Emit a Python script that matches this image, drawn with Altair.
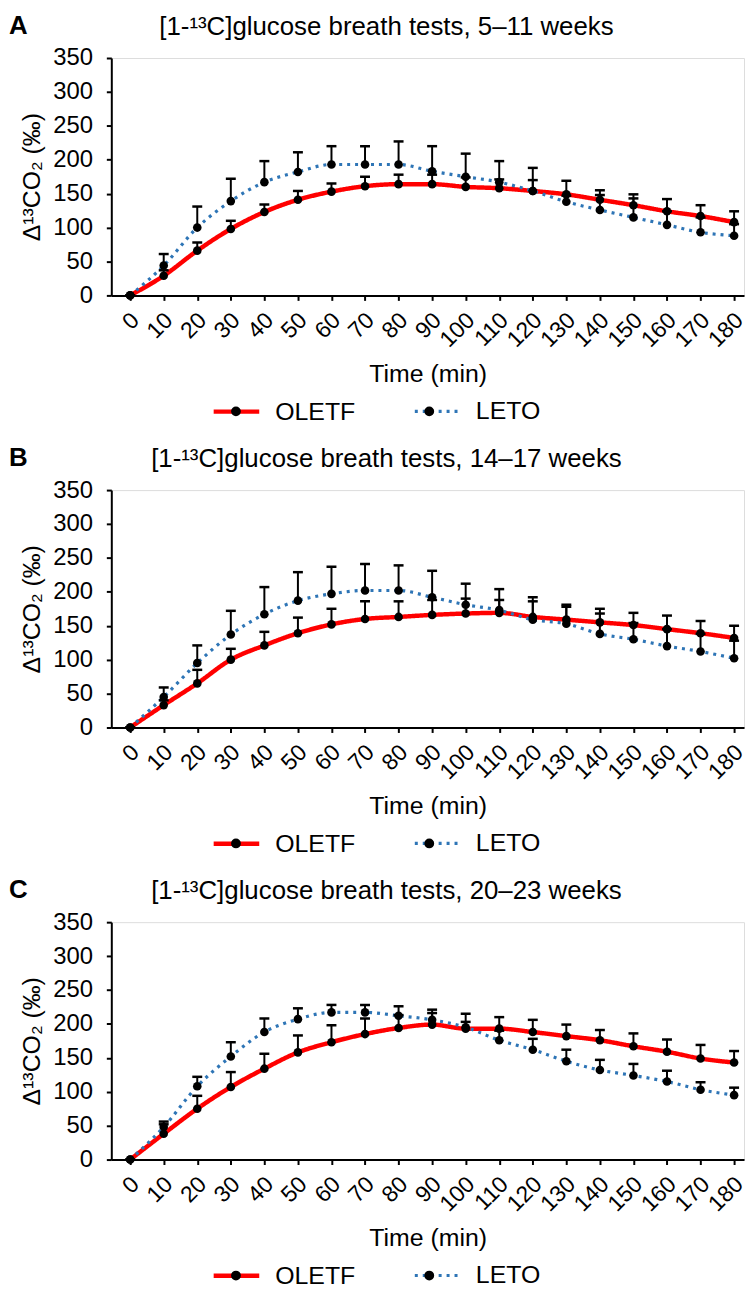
import altair as alt
import pandas as pd

FONT = "Liberation Sans"

times = list(range(0, 181, 10))
series_names = ["OLETF", "LETO"]
series_colors = ["#ff0000", "#2e75b6"]
y_ticks = list(range(0, 351, 50))

letters = ["A", "B", "C"]
titles = [
    "[1-\u00b9\u00b3C]glucose breath tests, 5\u201311 weeks",
    "[1-\u00b9\u00b3C]glucose breath tests, 14\u201317 weeks",
    "[1-\u00b9\u00b3C]glucose breath tests, 20\u201323 weeks",
]

# Panel A (5-11 weeks)
a_oletf = [0, 29, 66, 98, 123, 141, 153, 161, 164, 164, 160, 158, 154, 149, 141, 133, 124, 117, 108]
a_oletf_sd = [0, 8, 12, 12, 11, 13, 12, 14, 14, 14, 14, 13, 16, 20, 14, 16, 18, 16, 16]
a_leto = [0, 44, 100, 139, 167, 182, 193, 193, 193, 183, 175, 167, 154, 138, 126, 115, 104, 93, 88]
a_leto_sd = [0, 17, 31, 33, 31, 29, 27, 27, 34, 37, 34, 31, 34, 9, 22, 28, 20, 22, 17]

# Panel B (14-17 weeks)
b_oletf = [0, 33, 65, 100, 121, 139, 152, 160, 163, 166, 168, 169, 163, 159, 155, 151, 145, 139, 132]
b_oletf_sd = [0, 7, 20, 16, 20, 23, 23, 26, 23, 22, 22, 19, 23, 22, 20, 18, 20, 18, 18]
b_leto = [0, 45, 95, 137, 167, 187, 197, 202, 202, 192, 181, 173, 159, 153, 138, 130, 120, 112, 102]
b_leto_sd = [0, 14, 26, 35, 40, 42, 40, 39, 37, 39, 31, 31, 33, 25, 30, 24, 25, 26, 26]

# Panel C (20-23 weeks)
c_oletf = [0, 38, 75, 107, 134, 158, 173, 185, 194, 199, 193, 193, 188, 182, 176, 167, 159, 149, 143]
c_oletf_sd = [0, 14, 19, 22, 22, 25, 25, 23, 19, 22, 22, 17, 18, 17, 15, 19, 18, 20, 17]
c_leto = [0, 48, 108, 152, 188, 207, 217, 217, 212, 206, 195, 176, 162, 145, 132, 124, 115, 103, 95]
c_leto_sd = [0, 8, 14, 21, 20, 16, 11, 11, 14, 10, 8, 14, 16, 17, 15, 17, 16, 11, 11]

panel_data = [
    (a_oletf, a_oletf_sd, a_leto, a_leto_sd),
    (b_oletf, b_oletf_sd, b_leto, b_leto_sd),
    (c_oletf, c_oletf_sd, c_leto, c_leto_sd),
]

W = 637
H = 239
LEG_X = 103
LEG_Y = H + 102
LABEL_W = 80.6  # width of "OLETF" at 25px

CIRCLE_PATH = "M0.25,0A0.25,0.25,0,1,1,-0.25,0A0.25,0.25,0,1,1,0.25,0Z"


def legend(is_points):
    kw = dict(
        title=None, orient="none", legendX=LEG_X, legendY=LEG_Y,
        direction="horizontal", symbolSize=650, symbolStrokeWidth=3.5,
        symbolOffset=8, labelOffset=24, labelFontSize=25, labelFont=FONT,
        labelColor="black", padding=0,
    )
    if is_points:
        kw.update(symbolType=CIRCLE_PATH, symbolFillColor="black",
                  symbolStrokeColor="black", labelExpr="''",
                  columnPadding=53 + LABEL_W)
    else:
        kw.update(symbolType="M-1.8,0H1.8", columnPadding=53)
    return alt.Legend(**kw)


def x_enc():
    return alt.X(
        "t:O",
        scale=alt.Scale(type="point", padding=0.429, align=0.655),
        axis=alt.Axis(
            title="Time (min)", labelAngle=315, labelAlign="right",
            labelBaseline="middle", labelPadding=16, labelOffset=5,
            labelFontSize=23, labelFont=FONT, labelColor="black",
            labelOverlap=False, labelFlush=False,
            titleFontSize=25, titleFont=FONT, titleFontWeight="normal",
            titleColor="black", titlePadding=10,
            tickSize=5, tickWidth=2, tickColor="black",
            domainColor="black", domainWidth=2, grid=False,
        ),
    )


def y_enc(field):
    return alt.Y(
        f"{field}:Q",
        scale=alt.Scale(domain=[0, 350], nice=False),
        axis=alt.Axis(
            title="\u0394\u00b9\u00b3CO\u2082 (\u2030)", values=y_ticks,
            labelFontSize=24, labelFont=FONT, labelColor="black", labelPadding=14,
            titleFontSize=25, titleFont=FONT, titleFontWeight="normal",
            titleColor="black", titlePadding=8,
            tickSize=5, tickWidth=2, tickColor="black",
            domainColor="black", domainWidth=2, grid=False,
        ),
    )


def make_panel(letter, title, oletf, oletf_sd, leto, leto_sd):
    rows = []
    for name, vals, sds in (("OLETF", oletf, oletf_sd), ("LETO", leto, leto_sd)):
        for t, v, sd in zip(times, vals, sds):
            rows.append({"t": t, "v": v, "top": v + sd, "series": name, "grp": name})
    df = pd.DataFrame(rows)
    base = alt.Chart(df)

    lines = base.mark_line(interpolate="monotone").encode(
        x=x_enc(), y=y_enc("v"),
        color=alt.Color("series:N", scale=alt.Scale(domain=series_names, range=series_colors),
                        legend=legend(False)),
        strokeDash=alt.StrokeDash("series:N",
                                  scale=alt.Scale(domain=series_names, range=[[1, 0], [3, 5]]),
                                  legend=legend(False)),
        strokeWidth=alt.StrokeWidth("series:N",
                                    scale=alt.Scale(domain=series_names, range=[4.5, 3.2]),
                                    legend=None),
    )
    bars = base.mark_rule(color="black", strokeWidth=2).encode(
        x=x_enc(), y=y_enc("v"), y2="top:Q")
    caps = base.mark_tick(color="black", thickness=2.5, size=10, opacity=1).encode(
        x=x_enc(), y=y_enc("top"))
    points = base.mark_circle(size=75, opacity=1).encode(
        x=x_enc(), y=y_enc("v"),
        fill=alt.Fill("grp:N", sort=series_names,
                      scale=alt.Scale(range=["black", "black"]), legend=legend(True)),
    )

    lab = pd.DataFrame({"label": [letter], "title": [title]})
    letter_mark = alt.Chart(lab).mark_text(
        align="left", baseline="middle", fontSize=26, fontWeight="bold",
        font=FONT, color="black").encode(
        x=alt.value(-103), y=alt.value(-32.5), text="label:N")
    title_mark = alt.Chart(lab).mark_text(
        align="center", baseline="middle", fontSize=26, font=FONT,
        color="black").encode(
        x=alt.value(277), y=alt.value(-31.5), text="title:N")

    return alt.layer(lines, bars, caps, points, letter_mark, title_mark).properties(
        width=W, height=H)


panels = [make_panel(letters[i], titles[i], *panel_data[i]) for i in range(3)]

chart = alt.vconcat(*panels, spacing=19).resolve_scale(
    color="independent", strokeDash="independent", fill="independent",
    strokeWidth="independent",
).resolve_legend(
    color="independent", strokeDash="independent", fill="independent",
).properties(
    padding={"left": 0, "top": 0, "right": 0, "bottom": 0}
).configure_view(stroke=None).configure(font=FONT)

chart.save("out.html", embed_options={"renderer": "svg", "actions": False})
